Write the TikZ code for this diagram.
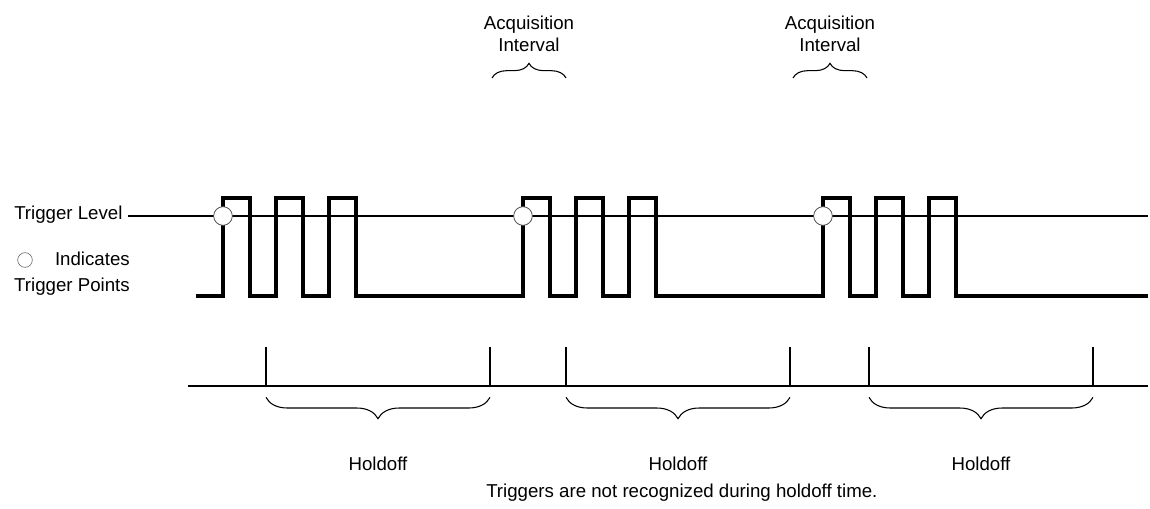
\documentclass[tikz,border=0pt]{standalone}
\usepackage{fontspec}
\setmainfont{Liberation Sans}
\usetikzlibrary{decorations.pathreplacing}
\tikzset{
  lbl/.style={inner sep=0pt, font=\fontsize{14}{16.5}\selectfont},
  wave/.style={line width=3pt},
  thinline/.style={line width=0.9pt},
  tick/.style={line width=1.3pt},
  trigpt/.style={circle, draw=black!70, fill=white, line width=0.6pt, inner sep=0pt, minimum size=14pt},
  upbrace/.style={decorate, decoration={brace, amplitude=11pt}, line width=0.8pt},
  downbrace/.style={decorate, decoration={brace, amplitude=16pt, mirror}, line width=0.8pt}
}
\begin{document}
\begin{tikzpicture}[x=0.75pt, y=-0.75pt]
  \useasboundingbox (0,0) rectangle (1150,508);
  % Labels on the left
  \node[lbl, anchor=west] (trigLevel) at (14,215) {Trigger Level};
  \node[lbl, anchor=east] (legendA) at (130,259) {Indicates};
  \node[lbl, anchor=east] (legendB) at (130,287) {Trigger Points};
  \node[trigpt, minimum size=11pt, draw=black!55, line width=0.5pt] (legendPt) at (25,260) {};
  % Trigger level
  \coordinate (levelEnd) at (1148,216);
  \draw[thinline] (trigLevel.east) ++(5,1) -- (levelEnd);
  % Pulse train
  \draw[wave] (196,296)
    \foreach \o in {223,523,823} {
      -- (\o,296) -- ++(0,-98) -- ++(27,0) -- ++(0,98)
      -- ++(26,0) -- ++(0,-98) -- ++(27,0) -- ++(0,98)
      -- ++(26,0) -- ++(0,-98) -- ++(27,0) -- ++(0,98)
    } -- (1148,296);
  % Trigger points
  \foreach \o [count=\i] in {223,523,823}
    \node[trigpt] (tp\i) at (\o,216) {};
  % Holdoff line
  \coordinate (baseL) at (188,386);
  \coordinate (baseR) at (1148,386);
  \draw[tick] (baseL) -- (baseR);
  \foreach \s [count=\i] in {266,566,869} {
    \coordinate (hs\i) at (\s,386);
    \coordinate (he\i) at (\s+224,386);
    \draw[tick] (hs\i) -- ++(0,-39);
    \draw[tick] (he\i) -- ++(0,-39);
    \draw[downbrace] ([yshift=-8.5pt]hs\i) -- ([yshift=-8.5pt]he\i);
    \node[lbl] (hold\i) at (\s+112,464) {Holdoff};
  }
  % Acquisition intervals
  \foreach \s [count=\i] in {492,793} {
    \coordinate (as\i) at (\s,78);
    \coordinate (ae\i) at (\s+74,78);
    \draw[upbrace] (as\i) -- (ae\i);
    \node[lbl, align=center] (acq\i) at (\s+37,34) {Acquisition\\Interval};
  }
  % Note
  \node[lbl, anchor=west] (note) at (486,493) {Triggers are not recognized during holdoff time.};
\end{tikzpicture}
\end{document}
